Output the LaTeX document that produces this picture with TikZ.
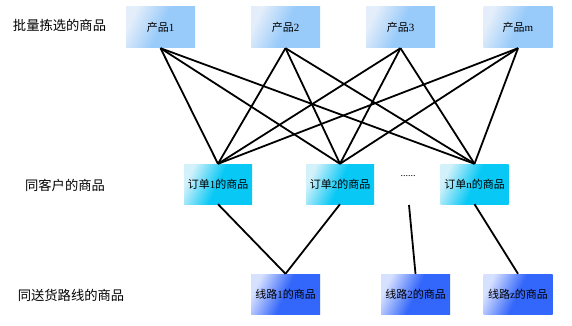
\documentclass[tikz,border=0pt]{standalone}
\usepackage{fontspec}
\setmainfont{Liberation Serif}
\newfontfamily\cjk{Noto Sans CJK SC}
\definecolor{prodA}{HTML}{E4EEFA}
\definecolor{prodB}{HTML}{99CBFA}
\definecolor{ordA}{HTML}{D2F1FB}
\definecolor{ordB}{HTML}{08C8F5}
\definecolor{rtA}{HTML}{D6E0FF}
\definecolor{rtB}{HTML}{3366FA}
\pgfdeclarehorizontalshading{prodsh}{100bp}{color(0bp)=(prodA); color(25bp)=(prodA); color(50bp)=(prodB); color(100bp)=(prodB)}
\pgfdeclarehorizontalshading{ordsh}{100bp}{color(0bp)=(ordA); color(25bp)=(ordA); color(50bp)=(ordB); color(100bp)=(ordB)}
\pgfdeclarehorizontalshading{rtsh}{100bp}{color(0bp)=(rtA); color(25bp)=(rtA); color(50bp)=(rtB); color(100bp)=(rtB)}
\begin{document}
\begin{tikzpicture}[x=1pt,y=-1pt,
  box/.style={draw=none,inner sep=0pt,font=\fontsize{11}{13}\selectfont},
  prod/.style={box,minimum width=69pt,minimum height=41pt,shade,shading=prodsh,shading angle=-25},
  ord/.style={box,minimum width=68pt,minimum height=40pt,shade,shading=ordsh,shading angle=-25},
  rt/.style={box,minimum width=69pt,minimum height=40pt,shade,shading=rtsh,shading angle=-25},
  lab/.style={inner sep=0pt,font=\cjk\fontsize{13.3}{16}\selectfont},
  conn/.style={line width=1.8pt,black}]
\useasboundingbox (0,0) rectangle (572,326);
\fill[white] (0,0) rectangle (572,326);
% row labels
\node[lab] (l1) at (59.5,25) {批量拣选的商品};
\node[lab] (l2) at (65,185) {同客户的商品};
\node[lab] (l3) at (71,295) {同送货路线的商品};
% products
\node[prod] (p1) at (160.5,27.5) {{\cjk 产品}1};
\node[prod] (p2) at (285.5,27.5) {{\cjk 产品}2};
\node[prod] (p3) at (400.5,27.5) {{\cjk 产品}3};
\node[prod] (pm) at (518,27.5) {{\cjk 产品}m};
% orders
\node[ord] (o1) at (218,184) {{\cjk 订单}1{\cjk 的商品}};
\node[ord] (o2) at (340,184) {{\cjk 订单}2{\cjk 的商品}};
\node[ord] (on) at (474.5,184) {{\cjk 订单}n{\cjk 的商品}};
\node[inner sep=0pt,font=\fontsize{10}{12}\selectfont] (dots) at (408,176) {......};
\coordinate (dd) at (409,205);
% routes
\node[rt] (r1) at (285.5,294) {{\cjk 线路}1{\cjk 的商品}};
\node[rt] (r2) at (415.5,294) {{\cjk 线路}2{\cjk 的商品}};
\node[rt] (rz) at (518,294) {{\cjk 线路}z{\cjk 的商品}};
% connectors
\foreach \p in {p1,p2,p3,pm}{
  \foreach \o in {o1,o2,on}{
    \draw[conn] (\p.south) -- (\o.north);
  }
}
\draw[conn] (o1.south) -- (r1.north);
\draw[conn] (o2.south) -- (r1.north);
\draw[conn] (dd) -- (r2.north);
\draw[conn] (on.south) -- (rz.north);
\end{tikzpicture}
\end{document}
